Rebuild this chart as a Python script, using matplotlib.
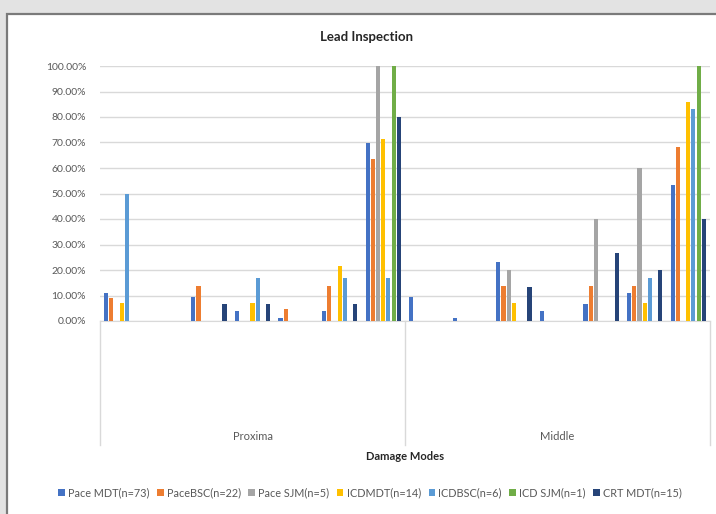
import matplotlib.pyplot as plt
from matplotlib.patches import Rectangle
import matplotlib.transforms as mtransforms
import numpy as np

plt.rcParams['font.family'] = ['Lato', 'DejaVu Sans']

groups = ["Proxima", "Middle"]
n_sub = 7
series = ["Pace MDT(n=73)", "PaceBSC(n=22)", "Pace SJM(n=5)", "ICDMDT(n=14)",
          "ICDBSC(n=6)", "ICD SJM(n=1)", "CRT MDT(n=15)"]
colors = ["#4472C4", "#ED7D31", "#A5A5A5", "#FFC000", "#5B9BD5", "#70AD47", "#264478"]

# percentages, 7 sub-categories for Proxima then 7 for Middle
pace_mdt = [10.96, 0, 9.59, 4.11, 1.37, 4.11, 69.86, 9.59, 1.37, 23.29, 4.11, 6.85, 10.96, 53.42]
pace_bsc = [9.09, 0, 13.64, 0, 4.55, 13.64, 63.64, 0, 0, 13.64, 0, 13.64, 13.64, 68.18]
pace_sjm = [0, 0, 0, 0, 0, 0, 100, 0, 0, 20, 0, 40, 60, 0]
icd_mdt = [7.14, 0, 0, 7.14, 0, 21.43, 71.43, 0, 0, 7.14, 0, 0, 7.14, 85.71]
icd_bsc = [50, 0, 0, 16.67, 0, 16.67, 16.67, 0, 0, 0, 0, 0, 16.67, 83.33]
icd_sjm = [0, 0, 0, 0, 0, 0, 100, 0, 0, 0, 0, 0, 0, 100]
crt_mdt = [0, 0, 6.67, 6.67, 0, 6.67, 80, 0, 0, 13.33, 0, 26.67, 20, 40]

values = [pace_mdt, pace_bsc, pace_sjm, icd_mdt, icd_bsc, icd_sjm, crt_mdt]

fig = plt.figure(figsize=(7.16, 5.14), dpi=100, facecolor="#e3e3e3")
fig.patches.append(Rectangle((7 / 716, -0.01), 1.0, 1 - 14 / 514 + 0.01,
                             transform=fig.transFigure, facecolor="white",
                             edgecolor="#7a7a7a", linewidth=1.6, zorder=0))

ax = fig.add_axes([100 / 716, 1 - 321 / 514, 610 / 716, 255 / 514])
ax.set_facecolor("none")
ax.set_zorder(2)

x = np.arange(len(pace_mdt))
step = 0.119
for i, (name, vals, c) in enumerate(zip(series, values, colors)):
    ax.bar(x + (i - 3) * step, np.array(vals) / 100, width=0.095, color=c,
           label=name, zorder=3)

ax.set_xlim(-0.5, len(x) - 0.5)
ax.set_ylim(0, 1.0)
ax.set_yticks(np.arange(0, 1.01, 0.1))
ax.set_yticklabels(["%.2f%%" % (v * 100) for v in np.arange(0, 1.01, 0.1)],
                   fontsize=7.5, color="#595959")
ax.tick_params(axis="y", length=0, pad=10)
ax.set_xticks([])
ax.grid(axis="y", color="#d9d9d9", linewidth=1, zorder=0)
for s in ["top", "right", "left"]:
    ax.spines[s].set_visible(False)
ax.spines["bottom"].set_color("#d9d9d9")

trans = mtransforms.blended_transform_factory(ax.transData, ax.transAxes)
for xs in [-0.5, n_sub - 0.5, 2 * n_sub - 0.5]:
    ax.plot([xs, xs], [0, -124 / 255], transform=trans, color="#d9d9d9",
            linewidth=1, clip_on=False)
for g, name in enumerate(groups):
    ax.text(g * n_sub + (n_sub - 1) / 2, -116 / 255, name, transform=trans,
            ha="center", va="center", fontsize=8, color="#595959")

ax.text(0.5, -136 / 255, "Damage Modes", transform=ax.transAxes, ha="center",
        va="center", fontsize=8, fontweight="bold", color="#262626")
fig.text(367 / 716, 1 - 37 / 514, "Lead Inspection", ha="center", va="center",
         fontsize=9.5, fontweight="bold", color="#262626")

fig.legend(loc="center", bbox_to_anchor=(370 / 716, 1 - 493 / 514), ncol=7,
           frameon=False, fontsize=7.8, handlelength=0.6, handleheight=0.6,
           handletextpad=0.3, columnspacing=0.7, labelcolor="#595959")

fig.savefig("out.png", dpi=100, facecolor=fig.get_facecolor())
